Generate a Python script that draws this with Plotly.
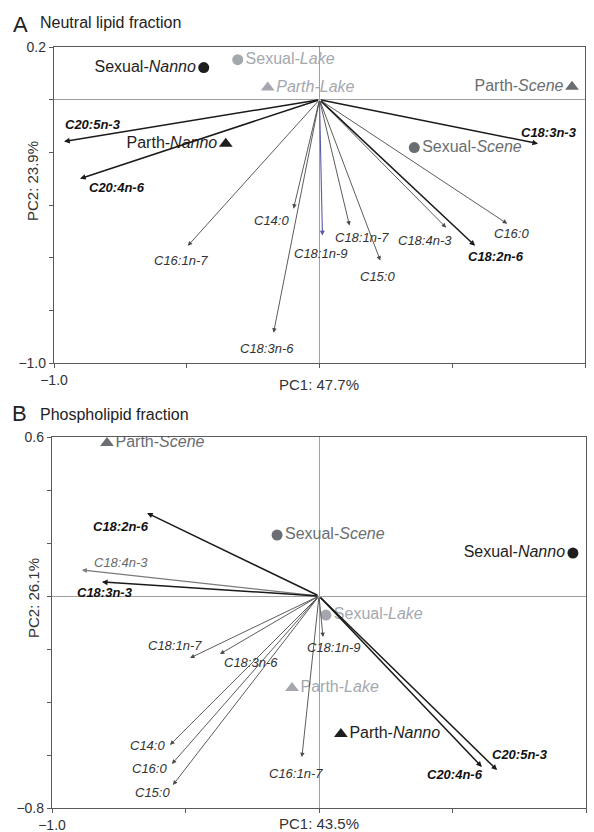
import plotly.graph_objects as go

# ---------------- Panel A: Neutral lipid fraction ----------------
a_vars = ["C20:5n-3", "C20:4n-6", "C18:3n-3", "C16:1n-7", "C18:3n-6", "C14:0",
          "C18:1n-9", "C18:1n-7", "C15:0", "C18:4n-3", "C18:2n-6", "C16:0"]
a_pc1 = [-0.962, -0.902, 0.823, -0.496, -0.173, -0.098, 0.011, 0.113, 0.229, 0.477, 0.586, 0.707]
a_pc2 = [-0.159, -0.300, -0.167, -0.555, -0.885, -0.414, -0.516, -0.478, -0.611, -0.486, -0.555, -0.471]

a_groups = ["Sexual-Nanno", "Sexual-Lake", "Parth-Lake", "Parth-Scene", "Sexual-Scene", "Parth-Nanno"]
a_g_pc1 = [-0.436, -0.308, -0.195, 0.951, 0.357, -0.353]
a_g_pc2 = [0.122, 0.152, 0.046, 0.049, -0.182, -0.167]

# ---------------- Panel B: Phospholipid fraction ----------------
b_vars = ["C18:2n-6", "C18:4n-3", "C18:3n-3", "C18:1n-7", "C18:3n-6", "C14:0",
          "C16:0", "C15:0", "C16:1n-7", "C18:1n-9", "C20:5n-3", "C20:4n-6"]
b_pc1 = [-0.644, -0.888, -0.813, -0.483, -0.371, -0.558, -0.551, -0.547, -0.064, 0.015, 0.667, 0.610]
b_pc2 = [0.313, 0.098, 0.053, -0.234, -0.219, -0.562, -0.634, -0.713, -0.608, -0.155, -0.657, -0.645]

b_groups = ["Parth-Scene", "Sexual-Scene", "Sexual-Nanno", "Sexual-Lake", "Parth-Lake", "Parth-Nanno"]
b_g_pc1 = [-0.794, -0.157, 0.951, 0.026, -0.101, 0.082]
b_g_pc2 = [0.577, 0.230, 0.162, -0.072, -0.347, -0.521]

a_pc1_label = "PC1: 47.7%"
a_pc2_label = "PC2: 23.9%"
b_pc1_label = "PC1: 43.5%"
b_pc2_label = "PC2: 26.1%"

# ---------------- styles ----------------
FONT = "Liberation Sans, Arial, Helvetica, sans-serif"
BLACK = "#1e1e1e"
DARK = "#6a6d71"
LIGHT = "#a4a8ae"
bold_vars = {"C20:5n-3", "C20:4n-6", "C18:3n-3", "C18:2n-6"}

group_style = {
    "Sexual-Nanno": dict(color=BLACK, symbol="circle"),
    "Parth-Nanno": dict(color=BLACK, symbol="triangle-up"),
    "Sexual-Scene": dict(color=DARK, symbol="circle"),
    "Parth-Scene": dict(color=DARK, symbol="triangle-up"),
    "Sexual-Lake": dict(color=LIGHT, symbol="circle"),
    "Parth-Lake": dict(color=LIGHT, symbol="triangle-up"),
}

a_text_side = {"Sexual-Nanno": "middle left", "Sexual-Lake": "middle right",
               "Parth-Lake": "middle right", "Parth-Scene": "middle left",
               "Sexual-Scene": "middle right", "Parth-Nanno": "middle left"}
b_text_side = {"Parth-Scene": "middle right", "Sexual-Scene": "middle right",
               "Sexual-Nanno": "middle left", "Sexual-Lake": "middle right",
               "Parth-Lake": "middle right", "Parth-Nanno": "middle right"}

# label offsets in pixels (dx, dy up) relative to arrow tip
a_lab_off = {"C20:5n-3": (29, 17), "C20:4n-6": (37, -9), "C18:3n-3": (11, 11),
             "C16:1n-7": (-7, -15), "C18:3n-6": (-7, -16), "C14:0": (-22, -12),
             "C18:1n-9": (-2, -18), "C18:1n-7": (12, -12), "C15:0": (-3, -16),
             "C18:4n-3": (-21, -13), "C18:2n-6": (21, -11), "C16:0": (4, -10)}
b_lab_off = {"C18:2n-6": (-26, -13), "C18:4n-3": (39, 8), "C18:3n-3": (3, -11),
             "C18:1n-7": (-15, 13), "C18:3n-6": (31, -8), "C14:0": (-23, -1),
             "C16:0": (-22, -4), "C15:0": (-20, -8), "C16:1n-7": (-6, -16),
             "C18:1n-9": (10, -10), "C20:5n-3": (23, 16), "C20:4n-6": (-27, -8)}


def fmt_group(name, all_italic=False):
    pre, suf = name.split("-")
    if all_italic:
        return f"<i>{pre}-{suf}</i>"
    return f"{pre}-<i>{suf}</i>"


fig = go.Figure()
annotations = []


def add_panel(xa, ya, vars_, pc1, pc2, groups, gx, gy, sides, offs,
              special_arrow_color, italic_groups):
    # arrows
    for v, x, y in zip(vars_, pc1, pc2):
        if v in bold_vars:
            col, w, s = "#1a1a1a", 1.5, 0.75
        elif v in special_arrow_color:
            col, w, s = special_arrow_color[v], 1.1, 0.9
        else:
            col, w, s = "#4a4a4a", 0.9, 1.0
        annotations.append(dict(x=x, y=y, ax=0, ay=0, xref=xa, yref=ya,
                                axref=xa, ayref=ya, text="", showarrow=True,
                                arrowhead=2, arrowsize=s, arrowwidth=w,
                                arrowcolor=col, standoff=0))
        dx, dy = offs[v]
        if v in bold_vars:
            txt, tcol = f"<b><i>{v}</i></b>", "#111111"
        elif v in special_arrow_color and special_arrow_color[v] == "#7a7a7a":
            txt, tcol = f"<i>{v}</i>", "#6a6a6a"
        else:
            txt, tcol = f"<i>{v}</i>", "#333333"
        annotations.append(dict(x=x, y=y, xref=xa, yref=ya, text=txt,
                                showarrow=False, xshift=dx, yshift=dy,
                                xanchor="center", yanchor="middle",
                                font=dict(family=FONT, size=13, color=tcol)))
    # group points
    for g, x, y in zip(groups, gx, gy):
        st = group_style[g]
        fig.add_trace(go.Scatter(
            x=[x], y=[y], xaxis=xa, yaxis=ya, mode="markers+text",
            text=[fmt_group(g, g in italic_groups)], textposition=sides[g],
            marker=dict(color=st["color"], symbol=st["symbol"],
                        size=11 if st["symbol"] == "circle" else 12,
                        line=dict(width=0)),
            textfont=dict(family=FONT, size=16, color=st["color"]),
            showlegend=False, hoverinfo="skip"))


add_panel("x", "y", a_vars, a_pc1, a_pc2, a_groups, a_g_pc1, a_g_pc2,
          a_text_side, a_lab_off, {"C18:1n-9": "#5a5aa6"}, {"Parth-Lake"})
add_panel("x2", "y2", b_vars, b_pc1, b_pc2, b_groups, b_g_pc1, b_g_pc2,
          b_text_side, b_lab_off, {"C18:4n-3": "#7a7a7a"}, set())

axis_common = dict(showgrid=False, zeroline=True, zerolinecolor="#a0a0a0",
                   zerolinewidth=1, showline=True, mirror=True,
                   linecolor="#5a5a5a", linewidth=1.3, ticks="outside",
                   ticklen=4, tickcolor="#5a5a5a",
                   tickfont=dict(family=FONT, size=14, color="#333333"),
                   automargin=False)

fig.update_layout(
    width=594, height=832, margin=dict(l=0, r=0, t=0, b=0),
    paper_bgcolor="white", plot_bgcolor="white",
    xaxis=dict(domain=[54 / 594, 585 / 594], range=[-1.0, 1.0],
               tickvals=[-1.0, -0.5, 0, 0.5, 1.0], ticktext=["\u22121.0", "", "", "", "1.0"],
               anchor="y", **axis_common),
    yaxis=dict(domain=[1 - 363 / 832, 1 - 47 / 832], range=[-1.0, 0.2],
               tickvals=[-1.0, -0.8, -0.6, -0.4, -0.2, 0, 0.2],
               ticktext=["\u22121.0", "", "", "", "", "", "0.2"],
               anchor="x", **axis_common),
    xaxis2=dict(domain=[52 / 594, 586 / 594], range=[-1.0, 1.0],
                tickvals=[-1.0, -0.5, 0, 0.5, 1.0], ticktext=["\u22121.0", "", "", "", "1.0"],
                anchor="y2", **axis_common),
    yaxis2=dict(domain=[1 - 808 / 832, 1 - 437 / 832], range=[-0.8, 0.6],
                tickvals=[-0.8, -0.6, -0.4, -0.2, 0, 0.2, 0.4, 0.6],
                ticktext=["\u22120.8", "", "", "", "", "", "", "0.6"],
                anchor="x2", **axis_common),
)


def ptext(x, y, text, size, xanchor="left", angle=0, color="#222222"):
    annotations.append(dict(x=x / 594, y=1 - y / 832, xref="paper", yref="paper",
                            text=text, showarrow=False, xanchor=xanchor,
                            yanchor="middle", textangle=angle,
                            font=dict(family=FONT, size=size, color=color)))


ptext(11, 25, "A", 22)
ptext(38, 23, "Neutral lipid fraction", 16)
ptext(10, 413, "B", 22)
ptext(38, 415, "Phospholipid fraction", 16)
ptext(319, 384, a_pc1_label, 15, xanchor="center", color="#333333")
ptext(33, 181, a_pc2_label, 15, xanchor="center", angle=-90, color="#333333")
ptext(319, 823, b_pc1_label, 15, xanchor="center", color="#333333")
ptext(33, 598, b_pc2_label, 15, xanchor="center", angle=-90, color="#333333")

fig.update_layout(annotations=annotations)
fig.write_html("out.html", config={"displayModeBar": False},
               post_script="document.body.style.margin='0px';document.body.style.overflow='hidden';")
